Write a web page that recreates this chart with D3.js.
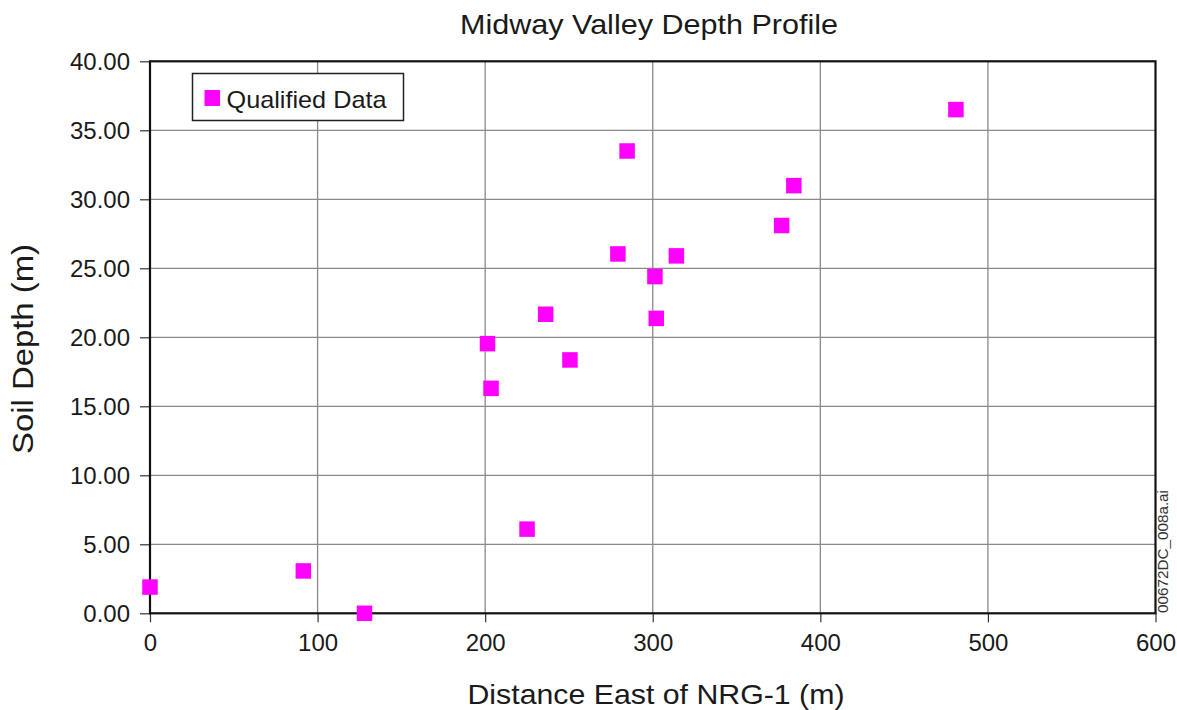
<!DOCTYPE html>
<html>
<head>
<meta charset="utf-8">
<script src="https://cdn.jsdelivr.net/npm/d3@7"></script>
<style>
  html, body { margin: 0; padding: 0; background: #fff; }
  svg { display: block; font-family: "Liberation Sans", Arial, Helvetica, sans-serif; }
</style>
</head>
<body>
<svg id="chart" width="1177" height="710"></svg>
<script>
// ---- data ----
const distance = [0, 91.5, 128, 225, 284.7, 279.2, 314.1, 301.3, 236.1, 302.1, 201.4, 250.6, 203.5, 480.9, 384.2, 376.9];
const depth    = [1.9, 3.07, 0.0, 6.1, 33.5, 26.04, 25.9, 24.4, 21.67, 21.37, 19.54, 18.36, 16.3, 36.5, 30.99, 28.1];
const xTicks = [0, 100, 200, 300, 400, 500, 600];
const yTicks = [0, 5, 10, 15, 20, 25, 30, 35, 40];
const seriesName = "Qualified Data";
const titleText = "Midway Valley Depth Profile";
const xTitle = "Distance East of NRG-1 (m)";
const yTitle = "Soil Depth (m)";
const fileTag = "00672DC_008a.ai";

// ---- layout ----
const L = 150, R = 1155.5, T = 61.3, B = 613.3;
const x = d3.scaleLinear().domain([0, 600]).range([L, R]);
const y = d3.scaleLinear().domain([0, 40]).range([B, T]);
const svg = d3.select("#chart");
const gridColor = "#8a8a8a";
const magenta = "#ff00ff";

// gridlines
svg.append("g").selectAll("line").data(xTicks.slice(1, -1)).join("line")
  .attr("x1", d => x(d)).attr("x2", d => x(d)).attr("y1", T).attr("y2", B)
  .attr("stroke", gridColor).attr("stroke-width", 1.3);
svg.append("g").selectAll("line").data(yTicks.slice(1, -1)).join("line")
  .attr("y1", d => y(d)).attr("y2", d => y(d)).attr("x1", L).attr("x2", R)
  .attr("stroke", gridColor).attr("stroke-width", 1.3);

// axes
const fmt = d3.format(".2f");
const yAxis = d3.axisLeft(y).tickValues(yTicks).tickFormat(fmt).tickSize(10).tickPadding(10);
const xAxis = d3.axisBottom(x).tickValues(xTicks).tickFormat(d3.format("d")).tickSize(9).tickPadding(12);
const gy = svg.append("g").attr("transform", `translate(${L},0)`).call(yAxis);
const gx = svg.append("g").attr("transform", `translate(0,${B})`).call(xAxis);
[gx, gy].forEach(g => {
  g.select(".domain").remove();
  g.selectAll(".tick line").attr("stroke", "#333").attr("stroke-width", 1.2);
  g.selectAll(".tick text").attr("fill", "#1a1a1a").style("font-size", "24px")
    .style("font-family", '"Liberation Sans", Arial, sans-serif');
});
gy.selectAll(".tick text").attr("dy", "0.35em");
gx.selectAll(".tick text").attr("dy", "0.71em");

// frame
svg.append("rect").attr("x", L).attr("y", T).attr("width", R - L).attr("height", B - T)
  .attr("fill", "none").attr("stroke", "#111").attr("stroke-width", 2.2);

// titles
svg.append("text").attr("x", 649).attr("y", 34).attr("text-anchor", "middle")
  .style("font-size", "28px").attr("fill", "#1a1a1a")
  .attr("textLength", 378).attr("lengthAdjust", "spacingAndGlyphs").text(titleText);
svg.append("text").attr("x", 656).attr("y", 704).attr("text-anchor", "middle")
  .style("font-size", "28px").attr("fill", "#1a1a1a")
  .attr("textLength", 377).attr("lengthAdjust", "spacingAndGlyphs").text(xTitle);
svg.append("text").attr("transform", "translate(33,349) rotate(-90)").attr("text-anchor", "middle")
  .style("font-size", "29px").attr("fill", "#1a1a1a")
  .attr("textLength", 210).attr("lengthAdjust", "spacingAndGlyphs").text(yTitle);

// file tag
svg.append("text").attr("transform", "translate(1168,613) rotate(-90)").attr("text-anchor", "start")
  .style("font-size", "14px").attr("fill", "#333")
  .attr("textLength", 123).attr("lengthAdjust", "spacingAndGlyphs").text(fileTag);

// legend
const lg = svg.append("g");
lg.append("rect").attr("x", 192.5).attr("y", 73.5).attr("width", 211).attr("height", 47)
  .attr("fill", "#fff").attr("stroke", "#222").attr("stroke-width", 1.5);
lg.append("rect").attr("x", 204.5).attr("y", 90).attr("width", 15.5).attr("height", 16).attr("fill", magenta);
lg.append("text").attr("x", 226.5).attr("y", 107.5).style("font-size", "24px").attr("fill", "#1a1a1a")
  .attr("textLength", 160).attr("lengthAdjust", "spacingAndGlyphs").text(seriesName);

// points
const pts = distance.map((d, i) => ({ x: d, y: depth[i] }));
const s = 15.5;
svg.append("g").selectAll("rect").data(pts).join("rect")
  .attr("x", d => x(d.x) - s / 2).attr("y", d => y(d.y) - s / 2)
  .attr("width", s).attr("height", s).attr("fill", magenta);
</script>
</body>
</html>
